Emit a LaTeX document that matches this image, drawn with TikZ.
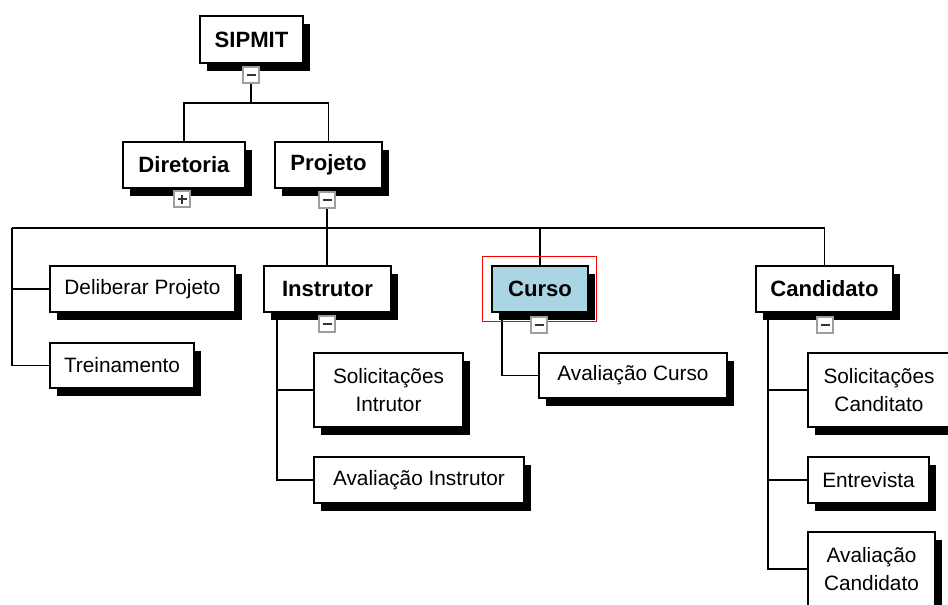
\documentclass[tikz,border=0pt]{standalone}
\usepackage{fontspec}
\setmainfont{Liberation Sans}
\usetikzlibrary{shadows,backgrounds,calc}
\newdimen\pxu \pxu=0.75pt
\definecolor{cursoblue}{RGB}{170,214,228}
\tikzset{
 nbox/.style={draw=black, line width=1.3\pxu, fill=white, inner sep=0pt, align=center,
   font=\fontsize{15.6}{21}\selectfont,
   drop shadow={shadow xshift=7\pxu, shadow yshift=-8\pxu, fill=black, opacity=1}},
 bbox/.style={nbox, font=\fontsize{16.6}{21}\selectfont\bfseries},
 tog/.style={draw=gray!75, line width=1.8\pxu, fill=white, minimum size=16\pxu, inner sep=0pt},
 togminus/.style={tog, path picture={\draw[black!80, line width=2.4\pxu]
   ([xshift=-4.5\pxu]path picture bounding box.center) -- ([xshift=4.5\pxu]path picture bounding box.center);}},
 togplus/.style={tog, path picture={\draw[black!80, line width=2.2\pxu]
   ([xshift=-4.5\pxu]path picture bounding box.center) -- ([xshift=4.5\pxu]path picture bounding box.center)
   ([yshift=-4.5\pxu]path picture bounding box.center) -- ([yshift=4.5\pxu]path picture bounding box.center);}},
 link/.style={draw=black, line width=1.3\pxu},
}
\begin{document}
\begin{tikzpicture}[x=0.75pt, y=-0.75pt]
\useasboundingbox (0,0) rectangle (948,604);
% boxes
\node[bbox, minimum width=103\pxu, minimum height=47\pxu] (sip) at (251.5,39.5) {SIPMIT};
\node[bbox, minimum width=122\pxu, minimum height=46\pxu] (dir) at (184,165) {Diretoria};
\node[bbox, minimum width=107\pxu, minimum height=46\pxu] (proj) at (328.5,165) {Projeto};
\node[nbox, minimum width=185\pxu, minimum height=46\pxu] (delib) at (142.5,289) {Deliberar Projeto};
\node[nbox, minimum width=144\pxu, minimum height=45\pxu] (trein) at (122,365.5) {Treinamento};
\node[bbox, minimum width=127\pxu, minimum height=46\pxu] (instr) at (327.5,289) {Instrutor};
\node[bbox, minimum width=96\pxu, minimum height=46\pxu, fill=cursoblue] (curso) at (540,289) {Curso};
\node[bbox, minimum width=137\pxu, minimum height=46\pxu] (cand) at (824.5,289) {Candidato};
\node[nbox, minimum width=149\pxu, minimum height=74\pxu] (solI) at (388.5,390) {Solicitações\\Intrutor};
\node[nbox, minimum width=210\pxu, minimum height=46\pxu] (avI) at (419,480) {Avaliação Instrutor};
\node[nbox, minimum width=188\pxu, minimum height=45\pxu] (avC) at (633,375.5) {Avaliação Curso};
\node[nbox, minimum width=142\pxu, minimum height=74\pxu] (solC) at (879,390) {Solicitações\\Canditato};
\node[nbox, minimum width=121\pxu, minimum height=46\pxu] (entr) at (868.5,480) {Entrevista};
\node[nbox, minimum width=127\pxu, minimum height=74\pxu] (avCa) at (871.5,569) {Avaliação\\Candidato};
% selection frame
\draw[red, line width=1.3\pxu] ($(curso.north west)+(-9,-9)$) rectangle ($(curso.south east)+(8,9)$);
% toggles
\node[togminus] (tsip) at (251,75) {};
\node[togplus] (tdir) at (182,199) {};
\node[togminus] (tproj) at (327,200) {};
\node[togminus] (tinstr) at (327,324) {};
\node[togminus] (tcurso) at (539,325) {};
\node[togminus] (tcand) at (825,325) {};
% connectors
\begin{scope}[on background layer]
\fill[white] (0,0) rectangle (948,604);
\coordinate (j0) at (251,103);
\draw[link] (tsip.south) -- (j0);
\draw[link] (j0) -| (dir.north);
\draw[link] (j0) -| (proj.north);
\coordinate (h1) at (12,228);
\draw[link] (tproj.south) -- (tproj.south |- instr.north);
\draw[link] (h1) -| (cand.north);
\draw[link] (curso.north) -- (curso.north |- h1);
\draw[link] (h1) |- (trein.west);
\draw[link] (delib.west) -- (delib.west -| h1);
\coordinate (vi) at (277,312);
\draw[link] (vi) |- (avI.west);
\draw[link] (solI.west) -- (solI.west -| vi);
\coordinate (vc) at (502,312);
\draw[link] (vc) |- (avC.west);
\coordinate (vd) at (768,312);
\draw[link] (vd) |- (avCa.west);
\draw[link] (solC.west) -- (solC.west -| vd);
\draw[link] (entr.west) -- (entr.west -| vd);
\end{scope}
\end{tikzpicture}
\end{document}
